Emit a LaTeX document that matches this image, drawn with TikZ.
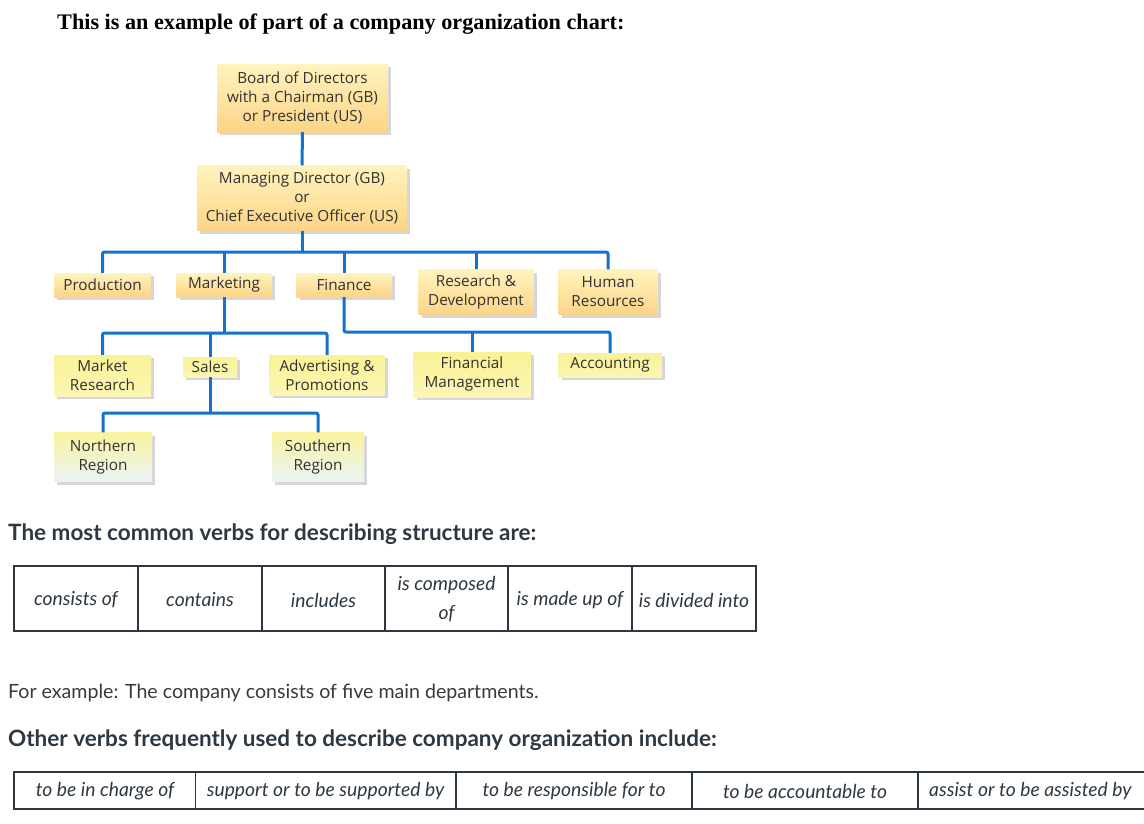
\documentclass[tikz,border=0pt]{standalone}
\usepackage{fontspec}
\usetikzlibrary{shadows}
\newfontfamily\lato{Lato}
\newfontfamily\osans{Open Sans}
\newfontfamily\titleserif{Liberation Serif}
\definecolor{conn}{RGB}{18,114,206}
\definecolor{aTop}{RGB}{255,243,190}
\definecolor{aBot}{RGB}{252,212,135}
\definecolor{bTop}{RGB}{250,242,150}
\definecolor{bBot}{RGB}{251,246,180}
\definecolor{cTop}{RGB}{250,243,160}
\definecolor{cBot}{RGB}{234,244,246}
\definecolor{shad}{RGB}{214,214,218}
\definecolor{boxtxt}{RGB}{50,50,50}
\definecolor{webtxt}{RGB}{46,56,66}
\definecolor{bodytxt}{RGB}{58,58,58}
\definecolor{rule}{RGB}{46,56,66}
\tikzset{
  orgbox/.style={draw=none, inner sep=0pt, align=center, text=boxtxt,
    font=\osans\fontsize{15.3}{19}\selectfont,
    drop shadow={shadow xshift=3pt, shadow yshift=-3pt, fill=shad, opacity=1}},
  lvlA/.style={orgbox, top color=aTop, bottom color=aBot},
  lvlB/.style={orgbox, top color=bTop, bottom color=bBot},
  lvlC/.style={orgbox, top color=cTop, bottom color=cBot},
  conn/.style={draw=conn, line width=3pt, rounded corners=2pt},
  heading/.style={anchor=west, inner sep=0pt, text=webtxt, font=\lato\bfseries\fontsize{22.5}{26}\selectfont},
  bodyline/.style={anchor=west, inner sep=0pt, text=bodytxt, font=\lato\fontsize{19.6}{23}\selectfont},
  cell/.style={inner sep=0pt, align=center, text=webtxt, font=\lato\itshape\fontsize{19.3}{29}\selectfont},
  grid/.style={draw=rule, line width=1.1pt}
}
\begin{document}
\begin{tikzpicture}[x=1pt,y=-1pt]
\useasboundingbox (0,0) rectangle (1144,823);
\fill[white] (0,0) rectangle (1144,823);

% title
\node[anchor=west, inner sep=0pt, text=black, font=\titleserif\bfseries\fontsize{22.2}{26}\selectfont] (title) at (57,24) {This is an example of part of a company organization chart:};

% org chart boxes
\node[lvlA, minimum width=171pt, minimum height=68pt] (board) at (302.5,98) {Board of Directors\\with a Chairman (GB)\\or President (US)};
\node[lvlA, minimum width=210pt, minimum height=65pt] (md) at (302,198) {Managing Director (GB)\\or\\Chief Executive Officer (US)};

\node[lvlA, minimum width=97pt, minimum height=24pt] (prod) at (102.5,285) {Production};
\node[lvlA, minimum width=95pt, minimum height=24pt] (mkt) at (224,285) {Marketing};
\node[lvlA, minimum width=95pt, minimum height=24pt] (fin) at (344,285) {Finance};
\node[lvlA, minimum width=115pt, minimum height=45pt] (rd) at (476,292) {Research \&\\Development};
\node[lvlA, minimum width=99pt, minimum height=45pt] (hr) at (608,292) {Human\\Resources};

\node[lvlB, minimum width=97pt, minimum height=41pt] (mr) at (102.5,375.5) {Market\\Research};
\node[lvlB, minimum width=54pt, minimum height=20pt] (sales) at (210,367) {Sales};
\node[lvlB, minimum width=115pt, minimum height=40pt] (adv) at (327,375) {Advertising \&\\Promotions};
\node[lvlB, minimum width=117pt, minimum height=45pt] (fm) at (472,374.5) {Financial\\Management};
\node[lvlB, minimum width=103pt, minimum height=24pt] (acc) at (610,365) {Accounting};

\node[lvlC, minimum width=98pt, minimum height=49pt] (north) at (103,457) {Northern\\Region};
\node[lvlC, minimum width=92pt, minimum height=49pt] (south) at (318,457) {Southern\\Region};

% connector junctions
\coordinate (bus) at (305,252);
\coordinate (mbus) at (224,333);
\coordinate (fbus) at (344,332);
\coordinate (sbus) at (210,413);

% connectors
\draw[conn] (board.south) -- (md.north);
\draw[conn] (md.south) -- (md.south |- bus);
\draw[conn] (prod.north) |- (bus) -| (hr.north);
\draw[conn] (mkt.north) -- (mkt.north |- bus);
\draw[conn] (fin.north) -- (fin.north |- bus);
\draw[conn] (rd.north) -- (rd.north |- bus);

\draw[conn] (mkt.south) -- (mbus);
\draw[conn] (mr.north) |- (mbus) -| (adv.north);
\draw[conn] (sales.north) -- (sales.north |- mbus);

\draw[conn] (fin.south) |- (fbus) -| (acc.north);
\draw[conn] (fm.north) -- (fm.north |- fbus);

\draw[conn] (sales.south) -- (sbus);
\draw[conn] (north.north) |- (sbus) -| (south.north);

% heading 1
\node[heading] (h1) at (8,534) {The most common verbs for describing structure are:};

% table 1
\draw[grid] (14,566) rectangle (756,631);
\foreach \x in {138,262,385,508,632} \draw[grid] (\x,566) -- (\x,631);
\node[cell] (t1a) at (76,600) {consists of};
\node[cell] (t1b) at (200,600) {contains};
\node[cell] (t1c) at (323.5,600) {includes};
\node[cell] (t1d) at (446.5,599) {is composed\\of};
\node[cell] (t1e) at (570,600) {is made up of};
\node[cell] (t1f) at (694,600) {is divided into};

% example
\node[bodyline] (ex) at (8,693) {For example: The company consists of five main departments.};

% heading 2
\node[heading] (h2) at (8,740) {Other verbs frequently used to describe company organization include:};

% table 2
\draw[grid] (1150,772) -- (14,772) -- (14,809) -- (1150,809);
\foreach \x in {195.5,456,692,918} \draw[grid] (\x,772) -- (\x,809);
\node[cell] (t2a) at (105,791) {to be in charge of};
\node[cell] (t2b) at (325.5,791) {support or to be supported by};
\node[cell] (t2c) at (574,791) {to be responsible for to};
\node[cell] (t2d) at (805,791) {to be accountable to};
\node[cell, anchor=west] (t2e) at (929,791) {assist or to be assisted by};
\end{tikzpicture}
\end{document}
